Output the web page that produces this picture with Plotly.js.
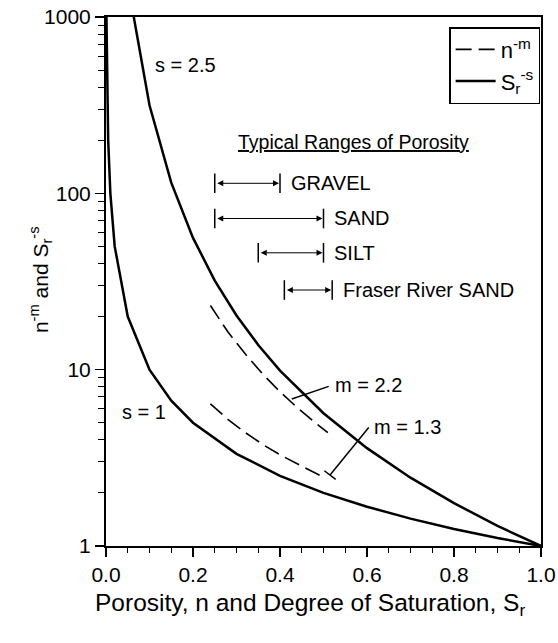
<!DOCTYPE html>
<html><head><meta charset="utf-8">
<script src="https://cdn.plot.ly/plotly-3.0.1.min.js"></script>
<style>html,body{margin:0;padding:0;background:#fff}</style>
</head><body><div id="chart" style="width:558px;height:643px"></div>
<script>
// S_r^-s, s = 1
const s1X = [0.001, 0.002, 0.005, 0.01, 0.02, 0.05, 0.1, 0.15, 0.2, 0.3, 0.4, 0.5, 0.6, 0.7, 0.8, 0.9, 1.0];
const s1Y = [1000, 500, 200, 100, 50, 20, 10, 6.67, 5, 3.33, 2.5, 2, 1.67, 1.43, 1.25, 1.11, 1];
// S_r^-s, s = 2.5
const s25X = [0.06, 0.1, 0.15, 0.2, 0.25, 0.3, 0.35, 0.4, 0.5, 0.6, 0.7, 0.8, 0.9, 1.0];
const s25Y = [1130, 316, 115, 55.9, 32, 20.3, 13.8, 9.88, 5.66, 3.59, 2.44, 1.75, 1.30, 1];
// n^-m, m = 2.2
const m22X = [0.24, 0.28, 0.32, 0.36, 0.40, 0.44, 0.48, 0.51];
const m22Y = [23.1, 16.4, 12.3, 9.45, 7.49, 6.08, 5.02, 4.40];
// n^-m, m = 1.3
const m13X = [0.24, 0.28, 0.32, 0.36, 0.40, 0.44, 0.48, 0.50];
const m13Y = [6.40, 5.23, 4.40, 3.77, 3.29, 2.91, 2.60, 2.46];
// Typical ranges of porosity
const rangeNames = ['GRAVEL', 'SAND', 'SILT', 'Fraser River SAND'];
const rangeLo = [0.25, 0.25, 0.35, 0.41];
const rangeHi = [0.40, 0.50, 0.50, 0.52];
const rangeLevel = [114, 72, 46, 28.3];
// axis ticks
const xTickVals = [0, 0.2, 0.4, 0.6, 0.8, 1.0];
const xTickText = ['0.0', '0.2', '0.4', '0.6', '0.8', '1.0'];
const yTickVals = [1, 10, 100, 1000];
const yTickText = ['1', '10', '100', '1000'];

const FONT = 'Liberation Sans, Arial, sans-serif';
const lg = v => Math.log10(v);
const DASH = '16px,7px';

const traces = [
  {x: m22X, y: m22Y, mode: 'lines', name: 'n<sup>-m</sup>', legendgroup: 'n',
   line: {color: '#000', width: 1.6, dash: DASH}},
  {x: m13X, y: m13Y, mode: 'lines', name: 'n<sup>-m</sup>', legendgroup: 'n', showlegend: false,
   line: {color: '#000', width: 1.6, dash: DASH}},
  {x: s25X, y: s25Y, mode: 'lines', name: 'S<sub>r</sub><sup>-s</sup>', legendgroup: 's',
   line: {color: '#000', width: 2.5}},
  {x: s1X, y: s1Y, mode: 'lines', name: 'S<sub>r</sub><sup>-s</sup>', legendgroup: 's', showlegend: false,
   line: {color: '#000', width: 2.5}},
  {x: rangeLo.concat(rangeHi), y: rangeLevel.concat(rangeLevel), mode: 'markers', showlegend: false,
   hoverinfo: 'skip',
   marker: {symbol: 'line-ns-open', size: 14, color: '#000', line: {color: '#000', width: 1.5}}}
];

const annotations = [];
rangeNames.forEach((nm, i) => {
  annotations.push({x: rangeHi[i], y: lg(rangeLevel[i]), ax: rangeLo[i], ay: lg(rangeLevel[i]),
    xref: 'x', yref: 'y', axref: 'x', ayref: 'y', text: '', showarrow: true,
    arrowside: 'end+start', arrowhead: 2, arrowsize: 1.2, arrowwidth: 1, arrowcolor: '#000', standoff: 1, startstandoff: 1});
  annotations.push({x: rangeHi[i] + 0.02, y: lg(rangeLevel[i]), xref: 'x', yref: 'y', text: nm,
    showarrow: false, xanchor: 'left', yanchor: 'middle', font: {family: FONT, size: 20, color: '#000'}});
});
annotations.push({x: 0.568, y: 2.291, xref: 'x', yref: 'y', text: '<u>Typical Ranges of Porosity</u>',
  showarrow: false, xanchor: 'center', yanchor: 'middle', font: {family: FONT, size: 19.5, color: '#000'}});
annotations.push({x: 0.108, y: 2.728, xref: 'x', yref: 'y', text: 's = 2.5', showarrow: false,
  xanchor: 'left', yanchor: 'middle', font: {family: FONT, size: 20, color: '#000'}});
annotations.push({x: 0.032, y: 0.760, xref: 'x', yref: 'y', text: 's = 1', showarrow: false,
  xanchor: 'left', yanchor: 'middle', font: {family: FONT, size: 20, color: '#000'}});
annotations.push({x: 0.522, y: 0.913, xref: 'x', yref: 'y', text: 'm = 2.2', showarrow: false,
  xanchor: 'left', yanchor: 'middle', font: {family: FONT, size: 20, color: '#000'}});
annotations.push({x: 0.612, y: 0.675, xref: 'x', yref: 'y', text: 'm = 1.3', showarrow: false,
  xanchor: 'left', yanchor: 'middle', font: {family: FONT, size: 20, color: '#000'}});
// axis titles placed as in the reference
annotations.push({x: -0.149, y: 0.503, xref: 'paper', yref: 'paper', textangle: -90,
  text: 'n<sup>-m</sup> and S<sub>r</sub><sup>-s</sup>', showarrow: false, xanchor: 'center', yanchor: 'middle',
  font: {family: FONT, size: 21, color: '#000'}});
annotations.push({x: 0.47, y: -0.11, xref: 'paper', yref: 'paper',
  text: 'Porosity, n and Degree of Saturation, S<sub>r</sub>', showarrow: false, xanchor: 'center', yanchor: 'middle',
  font: {family: FONT, size: 24.5, color: '#000'}});

// leader lines (paper y = log10(value)/3 on the 1..1000 log axis)
const shapes = [
  {type: 'line', xref: 'x', yref: 'paper', x0: 0.427, y0: 0.278, x1: 0.512, y1: 0.3017, line: {color: '#000', width: 1.5}},
  {type: 'line', xref: 'x', yref: 'paper', x0: 0.515, y0: 0.1343, x1: 0.604, y1: 0.224, line: {color: '#000', width: 1.5}},
  {type: 'line', xref: 'x', yref: 'paper', x0: 0.502, y0: 0.1423, x1: 0.528, y1: 0.126, line: {color: '#000', width: 1.5}}
];

const layout = {
  width: 558, height: 643,
  margin: {l: 106, r: 17, t: 17, b: 97},
  paper_bgcolor: '#fff', plot_bgcolor: '#fff',
  font: {family: FONT, color: '#000', size: 20},
  showlegend: true,
  legend: {x: 0.998, xanchor: 'right', y: 0.981, yanchor: 'top', bgcolor: '#fff',
    bordercolor: '#000', borderwidth: 1.5, font: {family: FONT, size: 22, color: '#000'},
    tracegroupgap: 0, itemwidth: 40},
  xaxis: {range: [0, 1], showline: true, mirror: true, linecolor: '#000', linewidth: 2,
    ticks: 'outside', ticklen: 9, tickwidth: 1.5, tickcolor: '#000',
    tickvals: xTickVals, ticktext: xTickText, tickfont: {family: FONT, size: 21},
    minor: {ticks: 'outside', dtick: 0.05, ticklen: 5, tickwidth: 1, tickcolor: '#000'},
    showgrid: false, zeroline: false},
  yaxis: {type: 'log', range: [0, 3], showline: true, mirror: true, linecolor: '#000', linewidth: 2,
    ticks: 'outside', ticklen: 9, tickwidth: 1.5, tickcolor: '#000',
    tickvals: yTickVals, ticktext: yTickText, tickfont: {family: FONT, size: 21},
    minor: {ticks: 'outside', dtick: 'D1', ticklen: 6, tickwidth: 1, tickcolor: '#000'},
    showgrid: false, zeroline: false},
  annotations: annotations,
  shapes: shapes
};

Plotly.newPlot('chart', traces, layout, {displayModeBar: false, staticPlot: true});
</script>
</body></html>
